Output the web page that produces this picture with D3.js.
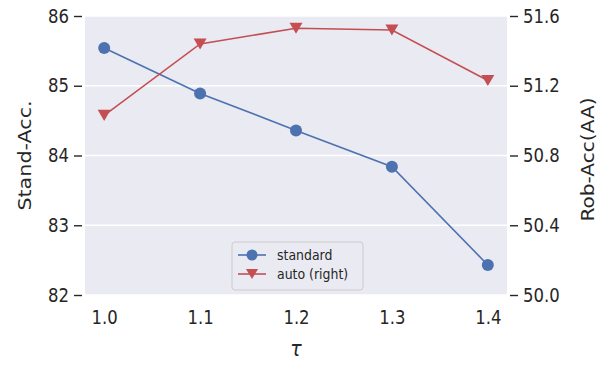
<!DOCTYPE html>
<html>
<head>
<meta charset="utf-8">
<script src="https://cdn.jsdelivr.net/npm/d3@7"></script>
<style>
  body { margin: 0; background: #ffffff; }
  text { font-family: "DejaVu Sans", sans-serif; fill: #262626; }
</style>
</head>
<body>
<svg id="chart" width="600" height="370"></svg>
<script>
// Data
const taus = [1.0, 1.1, 1.2, 1.3, 1.4]
const standardAcc = [85.54, 84.89, 84.36, 83.84, 82.43]
const autoRob = [51.03, 51.44, 51.53, 51.52, 51.23]
const leftTicks = [82, 83, 84, 85, 86]
const rightTicks = [50.0, 50.4, 50.8, 51.2, 51.6]

// Layout
const width = 600
const height = 370
const plot = { left: 85, right: 507, top: 16, bottom: 295 }

const bgColor = "#EAEAF2"
const blue = "#4C72B0"
const red = "#C44E52"
const textColor = "#262626"
// the picture looks a bit taller than wide, so stretch text vertically
const stretch = 1.15

const svg = d3.select("#chart")

const x = d3.scaleLinear()
    .domain([0.98, 1.42])
    .range([plot.left, plot.right])

const yLeft = d3.scaleLinear()
    .domain([82, 86])
    .range([plot.bottom, plot.top])

const yRight = d3.scaleLinear()
    .domain([50.0, 51.6])
    .range([plot.bottom, plot.top])

svg.append("rect")
    .attr("x", plot.left)
    .attr("y", plot.top)
    .attr("width", plot.right - plot.left)
    .attr("height", plot.bottom - plot.top)
    .attr("fill", bgColor)

// horizontal grid from the left axis only
svg.append("g")
    .selectAll("line")
    .data(leftTicks)
    .enter()
    .append("line")
    .attr("x1", plot.left)
    .attr("x2", plot.right)
    .attr("y1", d => yLeft(d))
    .attr("y2", d => yLeft(d))
    .attr("stroke", "#ffffff")
    .attr("stroke-width", 1.6)

function styleAxis(g) {
    g.select(".domain").remove()
    g.selectAll(".tick line").attr("stroke", textColor).attr("stroke-width", 1.4)
    g.selectAll(".tick text")
        .attr("fill", textColor)
        .attr("transform", `scale(1,${stretch})`)
        .style("font-size", "16.5px")
        .style("font-family", "DejaVu Sans, sans-serif")
}

svg.append("g")
    .attr("transform", `translate(${plot.left - 3},0)`)
    .call(d3.axisLeft(yLeft).tickValues(leftTicks).tickSize(8).tickPadding(5).tickFormat(d3.format("d")))
    .call(styleAxis)

svg.append("g")
    .attr("transform", `translate(${plot.right + 3},0)`)
    .call(d3.axisRight(yRight).tickValues(rightTicks).tickSize(8).tickPadding(5).tickFormat(d3.format(".1f")))
    .call(styleAxis)

svg.append("g")
    .attr("transform", `translate(0,${plot.bottom + 3})`)
    .call(d3.axisBottom(x).tickValues(taus).tickSize(0).tickPadding(11).tickFormat(d3.format(".1f")))
    .call(styleAxis)

// Axis labels
svg.append("text")
    .attr("transform", `translate(31,${(plot.top + plot.bottom) / 2}) rotate(-90) scale(${stretch},1)`)
    .attr("text-anchor", "middle")
    .style("font-size", "18px")
    .text("Stand-Acc.")

svg.append("text")
    .attr("transform", `translate(594,${(plot.top + plot.bottom) / 2 + 4}) rotate(-90) scale(${stretch},1)`)
    .attr("text-anchor", "middle")
    .style("font-size", "17.5px")
    .text("Rob-Acc(AA)")

svg.append("text")
    .attr("transform", `translate(${(plot.left + plot.right) / 2},356) scale(1,${stretch})`)
    .attr("text-anchor", "middle")
    .style("font-size", "19px")
    .style("font-style", "italic")
    .text("τ")

// Lines
const standardPoints = taus.map((t, i) => [x(t), yLeft(standardAcc[i])])
const autoPoints = taus.map((t, i) => [x(t), yRight(autoRob[i])])

const line = d3.line()

svg.append("path")
    .attr("d", line(standardPoints))
    .attr("fill", "none")
    .attr("stroke", blue)
    .attr("stroke-width", 1.6)

svg.append("g")
    .selectAll("circle")
    .data(standardPoints)
    .enter()
    .append("circle")
    .attr("cx", d => d[0])
    .attr("cy", d => d[1])
    .attr("r", 6)
    .attr("fill", blue)

svg.append("path")
    .attr("d", line(autoPoints))
    .attr("fill", "none")
    .attr("stroke", red)
    .attr("stroke-width", 1.6)

const triangle = (cx, cy, s) => `M${cx - s},${cy - s * 0.85}L${cx + s},${cy - s * 0.85}L${cx},${cy + s * 0.85}Z`

svg.append("g")
    .selectAll("path")
    .data(autoPoints)
    .enter()
    .append("path")
    .attr("d", d => triangle(d[0], d[1], 6.5))
    .attr("fill", red)

// Legend
const legend = svg.append("g").attr("transform", "translate(232,242)")

legend.append("rect")
    .attr("width", 131)
    .attr("height", 48)
    .attr("rx", 3)
    .attr("fill", bgColor)
    .attr("stroke", "#cccccc")
    .attr("stroke-width", 1)

const legendItems = [
    { label: "standard", color: blue, marker: "circle" },
    { label: "auto (right)", color: red, marker: "triangle" }
]

legendItems.forEach((item, i) => {
    const cy = 13 + i * 19
    legend.append("line")
        .attr("x1", 6).attr("x2", 34)
        .attr("y1", cy).attr("y2", cy)
        .attr("stroke", item.color)
        .attr("stroke-width", 1.6)
    if (item.marker === "circle") {
        legend.append("circle").attr("cx", 20).attr("cy", cy).attr("r", 5.5).attr("fill", item.color)
    } else {
        legend.append("path").attr("d", triangle(20, cy, 6)).attr("fill", item.color)
    }
    legend.append("text")
        .attr("transform", `translate(45,${cy + 4.5}) scale(1,${stretch})`)
        .style("font-size", "12.5px")
        .text(item.label)
})
</script>
</body>
</html>
